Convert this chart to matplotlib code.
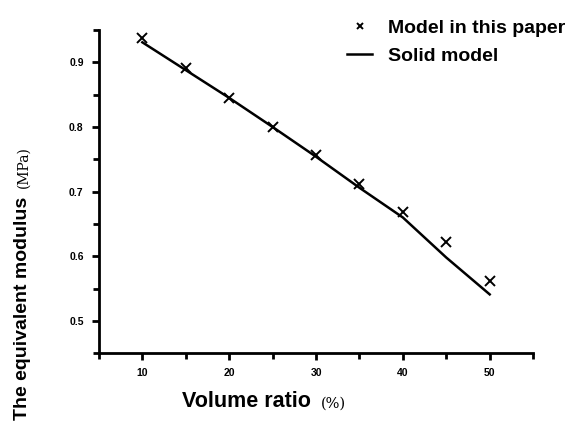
import matplotlib
matplotlib.use("Agg")
from matplotlib import pyplot as plt
from matplotlib.ticker import MultipleLocator

# values
ratio = [10, 15, 20, 25, 30, 35, 40, 45, 50]          # volume ratio, %
model_paper = [0.938, 0.892, 0.845, 0.800, 0.757, 0.712, 0.669, 0.622, 0.562]
solid_model = [0.931, 0.888, 0.845, 0.800, 0.754, 0.706, 0.660, 0.598, 0.541]

plt.rcParams['font.family'] = ['Liberation Sans', 'DejaVu Sans']

fig = plt.figure(figsize=(5.82, 4.23), dpi=100)
ax = fig.add_axes([0.170, 0.165, 0.746, 0.764])

ax.plot(ratio, solid_model, color='k', lw=1.8, label='Solid model')
ax.plot(ratio, model_paper, ls='none', marker='x', color='k', ms=7, mew=1.4,
        label='Model in this paper')

ax.set_xlim(5, 55)
ax.set_ylim(0.45, 0.95)
ax.xaxis.set_minor_locator(MultipleLocator(5))
ax.yaxis.set_minor_locator(MultipleLocator(0.05))
ax.set_xticks([10, 20, 30, 40, 50])
ax.set_xticklabels(['10', '20', '30', '40', '50'])
ax.set_yticks([0.5, 0.6, 0.7, 0.8, 0.9])
ax.set_yticklabels(['0.5', '0.6', '0.7', '0.8', '0.9'])

for s in ['top', 'right']:
    ax.spines[s].set_visible(False)
for s in ['left', 'bottom']:
    ax.spines[s].set_linewidth(2)
ax.tick_params(which='major', direction='out', length=5, width=2,
               labelsize=7.5, pad=6)
ax.tick_params(which='minor', direction='out', length=4, width=2)
for lab in ax.get_xticklabels() + ax.get_yticklabels():
    lab.set_fontweight('bold')

fig.text(0.313, 0.052, 'Volume ratio', fontsize=15.5, fontweight='bold',
         ha='left', va='center')
fig.text(0.552, 0.046, '(%)', fontsize=10.5, family='DejaVu Serif',
         ha='left', va='center')
fig.text(0.038, 0.007, 'The equivalent modulus', fontsize=14,
         fontweight='bold', rotation=90, ha='center', va='bottom')
fig.text(0.040, 1 - 188 / 423, '(MPa)', fontsize=10, family='DejaVu Serif',
         rotation=90, ha='center', va='bottom')

h, l = ax.get_legend_handles_labels()
leg = fig.legend(h[::-1], l[::-1], loc='upper left',
                 bbox_to_anchor=(0.566, 0.995), frameon=False, fontsize=14,
                 handlelength=1.3, handletextpad=0.8, labelspacing=0.5,
                 markerscale=0.6)
for t in leg.get_texts():
    t.set_fontweight('bold')

fig.savefig('out.png', dpi=100)
